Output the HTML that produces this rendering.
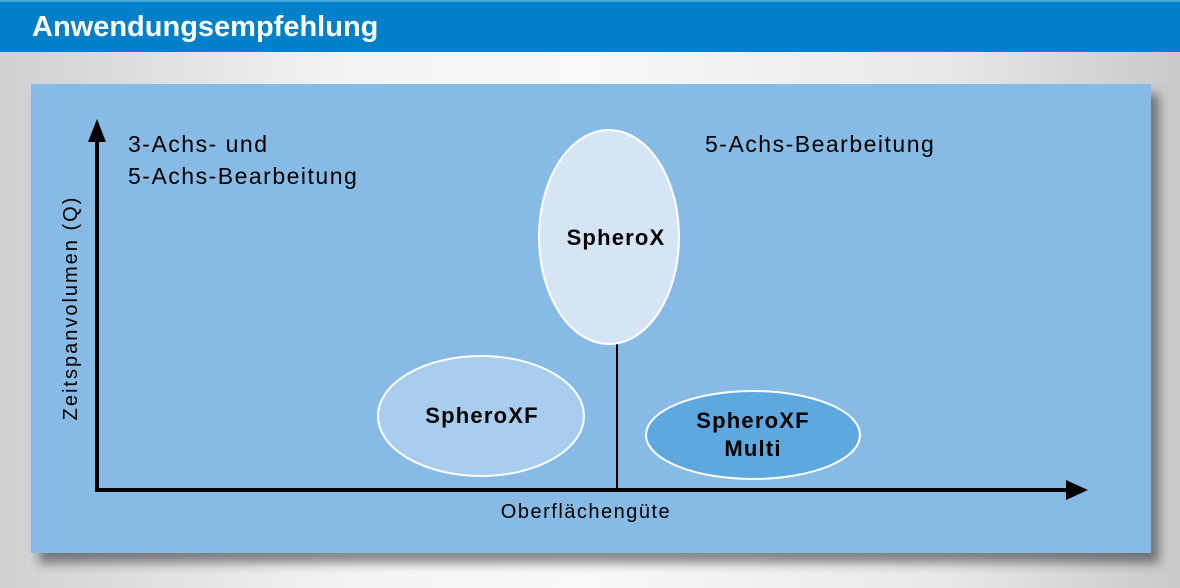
<!DOCTYPE html>
<html><head><style>
body{margin:0;width:1180px;height:588px;overflow:hidden;background:linear-gradient(90deg,#cfd0d2,#f4f4f4 30%,#f8f8f8 50%,#e8e8e8 80%,#c8c9cb);font-family:"Liberation Sans",sans-serif;}
.hd{position:absolute;left:0;top:0;width:1180px;height:52px;background:#0080c8;border-top:2px solid #4aa6dc;box-sizing:border-box;color:#fff;font-weight:bold;font-size:29px;line-height:50px;padding-left:32px;}
.pn{position:absolute;left:31px;top:84px;width:1120px;height:469px;background:#87bbe6;box-shadow:8px 10px 10px rgba(0,0,0,0.45);}
</style></head><body>
<div class="hd">Anwendungsempfehlung</div>
<div class="pn"></div>
<svg width="1180" height="588" style="position:absolute;left:0;top:0" font-family="Liberation Sans, sans-serif">
<line x1="97" y1="140" x2="97" y2="492" stroke="#000" stroke-width="4"/>
<polygon points="97,119 88,142 106,142" fill="#000"/>
<line x1="95" y1="490" x2="1068" y2="490" stroke="#000" stroke-width="4"/>
<polygon points="1088,490 1066,480 1066,500" fill="#000"/>
<line x1="617" y1="340" x2="617" y2="490" stroke="#000" stroke-width="2"/>
<ellipse cx="609" cy="237" rx="70" ry="107" fill="#d5e5f5" stroke="#fff" stroke-width="2"/>
<ellipse cx="481" cy="416" rx="103" ry="60" fill="#a9cdef" stroke="#fff" stroke-width="2"/>
<ellipse cx="753" cy="435" rx="107" ry="44" fill="#5ea8e0" stroke="#fff" stroke-width="2"/>
<g font-weight="bold" font-size="22" text-anchor="middle" fill="#000" letter-spacing="1.2">
<text x="616" y="245">SpheroX</text>
<text x="482" y="423">SpheroXF</text>
<text x="753" y="428">SpheroXF</text>
<text x="753" y="456">Multi</text>
</g>
<g font-size="23" fill="#000" letter-spacing="1.5">
<text x="128" y="152">3-Achs- und</text>
<text x="128" y="184">5-Achs-Bearbeitung</text>
<text x="705" y="152">5-Achs-Bearbeitung</text>
<text x="586" y="518" font-size="20" text-anchor="middle">Oberflächengüte</text>
<text transform="translate(77,308) rotate(-90)" font-size="20" letter-spacing="2" text-anchor="middle">Zeitspanvolumen (Q)</text>
</g>
</svg>
</body></html>
